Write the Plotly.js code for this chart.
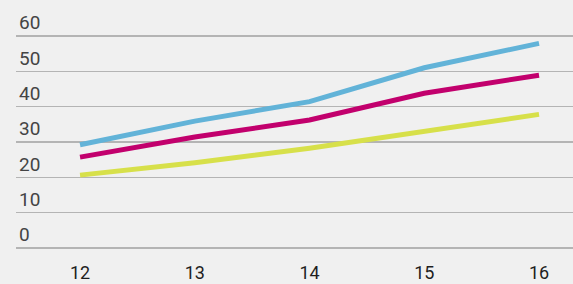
<!DOCTYPE html>
<html>
<head>
<meta charset="utf-8">
<script src="https://cdn.plot.ly/plotly-3.0.1.min.js"></script>
<style>
html,body{margin:0;padding:0;background:#f0f0f0;}
#chart{width:573px;height:284px;}
</style>
</head>
<body>
<div id="chart"></div>
<script>
var years = [12, 13, 14, 15, 16];
var blueSeries = [29.2, 35.9, 41.4, 51.0, 57.9];
var magentaSeries = [25.7, 31.4, 36.2, 43.8, 48.9];
var yellowSeries = [20.6, 24.1, 28.2, 33.1, 37.8];
var yTicks = [0, 10, 20, 30, 40, 50, 60];

function trace(y, color) {
  return {x: years, y: y, type: 'scatter', mode: 'lines',
          line: {color: color, width: 5}, hoverinfo: 'skip', showlegend: false};
}

var data = [
  trace(yellowSeries, '#d7e04a'),
  trace(magentaSeries, '#c2006d'),
  trace(blueSeries, '#62b3d8')
];

var layout = {
  width: 573, height: 284,
  margin: {l: 16, r: 0, t: 0, b: 34},
  paper_bgcolor: '#f0f0f0',
  plot_bgcolor: '#f0f0f0',
  font: {family: 'Roboto, "Open Sans", sans-serif', size: 19, color: '#1e1e1e'},
  xaxis: {
    range: [11.442, 16.296],
    tickvals: years,
    ticktext: years.map(String),
    tickfont: {size: 18},
    showgrid: false, zeroline: false, showline: false,
    ticks: '', ticklabelstandoff: 10,
    fixedrange: true
  },
  yaxis: {
    range: [-0.6, 70.19],
    tickvals: yTicks,
    ticktext: yTicks.map(String),
    ticklabelposition: 'inside top',
    showgrid: true, gridcolor: '#b4b4b4', gridwidth: 1.5,
    zeroline: false, showline: false, ticks: '',
    fixedrange: true
  }
};

Plotly.newPlot('chart', data, layout, {displayModeBar: false, staticPlot: true});
</script>
</body>
</html>
